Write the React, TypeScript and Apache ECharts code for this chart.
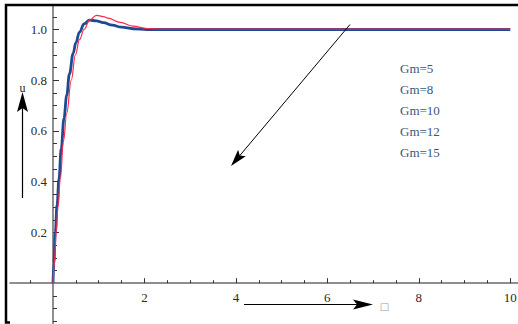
import React, { useEffect, useRef } from "react";
import * as echarts from "echarts";

// Time samples (τ) and responses u(τ)
const blueT = [0, 0.02, 0.05, 0.09, 0.13, 0.18, 0.24, 0.3, 0.36, 0.44, 0.5, 0.58, 0.68, 0.8, 0.95, 1.1, 1.3, 1.5, 1.75, 2.06, 2.5, 10];
const blueU = [0, 0.08, 0.2, 0.31, 0.41, 0.53, 0.65, 0.74, 0.825, 0.905, 0.948, 0.99, 1.022, 1.037, 1.034, 1.027, 1.017, 1.009, 1.003, 1.0, 1.0, 1.0];

const redT = [0, 0.03, 0.07, 0.11, 0.16, 0.23, 0.3, 0.4, 0.49, 0.58, 0.68, 0.8, 0.95, 1.1, 1.2, 1.47, 1.75, 2.06, 2.4, 10];
const redU = [0, 0.08, 0.2, 0.3, 0.41, 0.56, 0.67, 0.8, 0.9, 0.96, 1.0, 1.037, 1.056, 1.051, 1.045, 1.028, 1.013, 1.004, 1.002, 1.002];

const gmLabels = ["Gm=5", "Gm=8", "Gm=10", "Gm=12", "Gm=15"];

const xMajor = [2, 4, 6, 8, 10];
const xMinor = [-0.5, 0.5, 1, 1.5, 2.5, 3, 3.5, 4.5, 5, 5.5, 6.5, 7, 7.5, 8.5, 9, 9.5];
const yMajor = [0.2, 0.4, 0.6, 0.8, 1.0];
const yMinor = [-0.15, -0.1, -0.05, 0.05, 0.1, 0.15, 0.25, 0.3, 0.35, 0.45, 0.5, 0.55, 0.65, 0.7, 0.75, 0.85, 0.9, 0.95, 1.05];

const X_MIN = -0.94;
const X_MAX = 10.169;
const Y_MIN = -0.1608;
const Y_MAX = 1.0966;

const SERIF = "'Liberation Serif', 'DejaVu Serif', serif";

const GRID = { left: 10, right: 0, top: 5, bottom: 0 };
const W = 518;
const H = 324;

function arrowHead(tip: [number, number], from: [number, number], len: number, half: number) {
  const dx = tip[0] - from[0];
  const dy = tip[1] - from[1];
  const d = Math.hypot(dx, dy);
  const ux = dx / d;
  const uy = dy / d;
  const bx = tip[0] - ux * len;
  const by = tip[1] - uy * len;
  return [
    tip,
    [bx - uy * half, by + ux * half],
    [tip[0] - ux * len * 0.8, tip[1] - uy * len * 0.8],
    [bx + uy * half, by - ux * half],
  ];
}

export default function App() {
  const ref = useRef<HTMLDivElement>(null);

  useEffect(() => {
    if (!ref.current) return;
    const chart = echarts.init(ref.current, null, { renderer: "svg" });

    // axes cross at the origin: shift them inward from the grid edges
    const gw = W - GRID.left - GRID.right;
    const gh = H - GRID.top - GRID.bottom;
    const yAxisOffset = -((0 - X_MIN) / (X_MAX - X_MIN)) * gw;
    const xAxisOffset = -((0 - Y_MIN) / (Y_MAX - Y_MIN)) * gh;

    const axisLineStyle = { color: "#6a6a6a", width: 1.5 };
    const tickStyle = { color: "#333", width: 1 };
    const labelStyle = { color: "#2a2a2a", fontFamily: SERIF, fontSize: 13 };

    const diagFrom: [number, number] = [350, 24.5];
    const diagTip: [number, number] = [231, 166];
    const yFrom: [number, number] = [22.5, 198];
    const yTip: [number, number] = [22.5, 92];
    const xFrom: [number, number] = [244, 304.5];
    const xTip: [number, number] = [373, 304.5];

    chart.setOption({
      animation: false,
      backgroundColor: "#fff",
      grid: { ...GRID, containLabel: false, outerBoundsMode: "none" },
      xAxis: [
        {
          type: "value",
          min: X_MIN,
          max: X_MAX,
          position: "bottom",
          offset: xAxisOffset,
          axisLine: { show: true, onZero: false, lineStyle: axisLineStyle },
          axisTick: { show: true, inside: true, length: 5, customValues: xMajor, lineStyle: tickStyle },
          axisLabel: { show: true, margin: 8, customValues: xMajor, formatter: (v: number) => String(v), ...labelStyle },
          splitLine: { show: false },
        },
        {
          type: "value",
          min: X_MIN,
          max: X_MAX,
          position: "bottom",
          offset: xAxisOffset,
          axisLine: { show: false, onZero: false },
          axisTick: { show: true, inside: true, length: 3, customValues: xMinor, lineStyle: tickStyle },
          axisLabel: { show: false },
          splitLine: { show: false },
        },
      ],
      yAxis: [
        {
          type: "value",
          min: Y_MIN,
          max: Y_MAX,
          position: "left",
          offset: yAxisOffset,
          axisLine: { show: true, onZero: false, lineStyle: axisLineStyle },
          axisTick: { show: true, inside: true, length: 6, customValues: yMajor, lineStyle: tickStyle },
          axisLabel: { show: true, margin: 6, customValues: yMajor, formatter: (v: number) => v.toFixed(1), ...labelStyle },
          splitLine: { show: false },
        },
        {
          type: "value",
          min: Y_MIN,
          max: Y_MAX,
          position: "left",
          offset: yAxisOffset,
          axisLine: { show: false, onZero: false },
          axisTick: { show: true, inside: true, length: 4, customValues: yMinor, lineStyle: tickStyle },
          axisLabel: { show: false },
          splitLine: { show: false },
        },
      ],
      series: [
        {
          name: "Gm",
          type: "line",
          xAxisIndex: 0,
          yAxisIndex: 0,
          data: blueT.map((t, i) => [t, blueU[i]]),
          showSymbol: false,
          smooth: 0.4,
          smoothMonotone: "x",
          lineStyle: { color: "#1d4b93", width: 2.8 },
          z: 2,
        },
        {
          name: "ref",
          type: "line",
          xAxisIndex: 0,
          yAxisIndex: 0,
          data: redT.map((t, i) => [t, redU[i]]),
          showSymbol: false,
          smooth: 0.4,
          smoothMonotone: "x",
          lineStyle: { color: "#ff2a48", width: 1.2 },
          z: 3,
        },
      ],
      graphic: [
        // outer frame
        {
          type: "polyline",
          shape: { points: [[10, 322.5], [6, 322.5], [6, 5], [518, 5]] },
          style: { stroke: "#000", lineWidth: 2.5, fill: null },
          z: 10,
        },
        // Gm list
        ...gmLabels.map((t, i) => ({
          type: "text",
          x: 400,
          y: 68 + i * 21.1,
          style: { text: t, fill: "#39587a", font: `13px ${SERIF}`, textAlign: "left", textVerticalAlign: "middle" },
          z: 10,
        })),
        // diagonal arrow
        {
          type: "line",
          shape: { x1: diagFrom[0], y1: diagFrom[1], x2: diagTip[0] + 8, y2: diagTip[1] - 9.5 },
          style: { stroke: "#000", lineWidth: 1 },
          z: 10,
        },
        {
          type: "polygon",
          shape: { points: arrowHead(diagTip, diagFrom, 17, 5) },
          style: { fill: "#000" },
          z: 10,
        },
        // u arrow
        {
          type: "line",
          shape: { x1: yFrom[0], y1: yFrom[1], x2: yTip[0], y2: yTip[1] + 10 },
          style: { stroke: "#000", lineWidth: 1.2 },
          z: 10,
        },
        {
          type: "polygon",
          shape: { points: arrowHead(yTip, yFrom, 20, 5.5) },
          style: { fill: "#000" },
          z: 10,
        },
        {
          type: "text",
          x: 22.5,
          y: 88,
          style: { text: "u", fill: "#222", font: `12px ${SERIF}`, textAlign: "center", textVerticalAlign: "middle" },
          z: 10,
        },
        // τ arrow
        {
          type: "line",
          shape: { x1: xFrom[0], y1: xFrom[1], x2: xTip[0] - 10, y2: xTip[1] },
          style: { stroke: "#000", lineWidth: 1.2 },
          z: 10,
        },
        {
          type: "polygon",
          shape: { points: arrowHead(xTip, xFrom, 20, 5) },
          style: { fill: "#000" },
          z: 10,
        },
        {
          type: "text",
          x: 384.5,
          y: 306.5,
          style: { text: "\u25A1", fill: "#9a9a9a", font: "10px 'DejaVu Sans', sans-serif", textAlign: "center", textVerticalAlign: "middle" },
          z: 10,
        },
      ],
    });

    return () => chart.dispose();
  }, []);

  return (
    <div
      ref={ref}
      style={{ position: "fixed", left: 0, top: 0, width: W, height: H, background: "#fff" }}
    />
  );
}
